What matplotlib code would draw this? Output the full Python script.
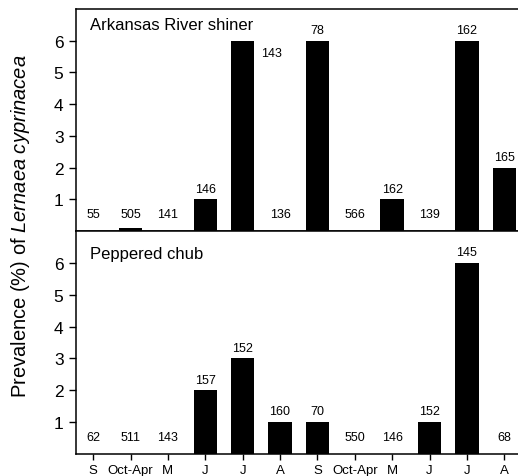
import numpy as np
import matplotlib
matplotlib.use("Agg")
import matplotlib.pyplot as plt

plt.rcParams['font.family'] = ['Liberation Sans', 'DejaVu Sans']
plt.rcParams['mathtext.fontset'] = 'custom'
plt.rcParams['mathtext.rm'] = 'Liberation Sans'
plt.rcParams['mathtext.it'] = 'Liberation Sans:italic'

months = ["S", "Oct-Apr", "M", "J", "J", "A", "S", "Oct-Apr", "M", "J", "J", "A"]

shiner_prev = [0, 0.1, 0, 1, 6, 0, 6, 0, 1, 0, 6, 2]
shiner_n = [55, 505, 141, 146, 143, 136, 78, 566, 162, 139, 162, 165]

chub_prev = [0, 0, 0, 2, 3, 1, 1, 0, 0, 1, 6, 0]
chub_n = [62, 511, 143, 157, 152, 160, 70, 550, 146, 152, 145, 68]

fig = plt.figure(figsize = (5.18, 4.77), dpi = 100)
ax1 = fig.add_axes([0.1467, 0.5136, 0.86, 0.4654])
ax2 = fig.add_axes([0.1467, 0.0461, 0.86, 0.4675])

x = np.arange(len(months))

panels = [(ax1, shiner_prev, shiner_n, "Arkansas River shiner", 6.5),
          (ax2, chub_prev, chub_n, "Peppered chub", 6.3)]

for ax, prev, n, name, ty in panels:
    ax.bar(x, prev, width = 0.63, color = 'black')
    ax.set_xlim(-0.46, 11.46)
    ax.set_ylim(0, 7)
    ax.set_yticks([1, 2, 3, 4, 5, 6])
    ax.set_xticks(x)
    ax.tick_params(axis = 'y', direction = 'out', length = 5, width = 1, labelsize = 12.5, pad = 4)
    ax.tick_params(axis = 'x', direction = 'out', length = 4, width = 1, labelsize = 9.5, pad = 3)
    for sp in ax.spines.values():
        sp.set_linewidth(1.1)
    ax.text(-0.08, ty, name, fontsize = 12, va = 'center', ha = 'left')

    for i in range(len(months)):
        if ax is ax1 and i == 4:
            # label would hit the panel title, so it goes beside the bar
            ax.text(i + 0.5, 5.6, str(n[i]), fontsize = 9, ha = 'left', va = 'center')
        else:
            ax.text(i, max(prev[i], 0.2) + 0.15, str(n[i]), fontsize = 9, ha = 'center', va = 'bottom')

ax1.set_xticklabels([])
ax2.set_xticklabels(months)

fig.text(0.04, 0.526, r'Prevalence (%) of $\mathit{Lernaea\ cyprinacea}$', rotation = 90,
         fontsize = 14.5, ha = 'center', va = 'center')

fig.savefig('out.png', dpi = 100)
